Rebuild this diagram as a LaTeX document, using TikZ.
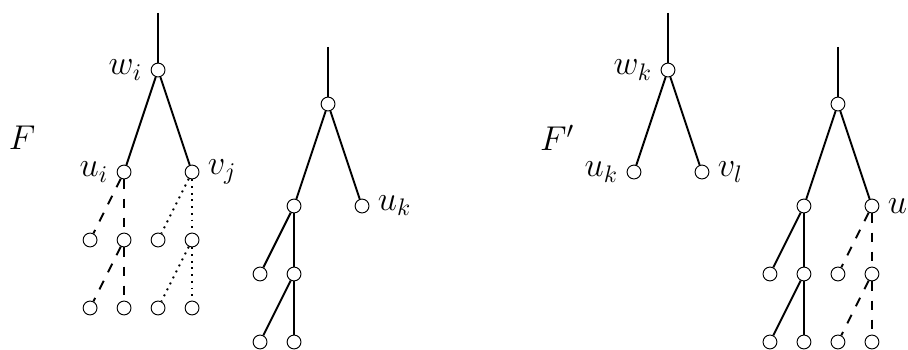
\documentclass[tikz,border=0pt]{standalone}
\usetikzlibrary{positioning}

\begin{document}
\begin{tikzpicture}[
  x=0.5cm, y=0.5cm,
  vtx/.style={draw, circle, fill=white, inner sep=0pt, minimum size=5.8pt},
  edge/.style={thick},
  dashedge/.style={thick, dash pattern=on 4pt off 4pt},
  dotedge/.style={thick, dotted},
  lbl/.style={font=\Large}
]
  \useasboundingbox (-0.65,-0.21) rectangle (26.06,10.06);

  % forest F
  \node[lbl] (F) at (0,6) {$F$};

  \coordinate (top1) at (4,9.68);
  \node[vtx, label={[lbl]left:$w_i$}] (wi) at (4,8) {};
  \node[vtx, label={[lbl]left:$u_i$}] (ui) at (3,5) {};
  \node[vtx, label={[lbl]right:$v_j$}] (vj) at (5,5) {};
  \node[vtx] (a1) at (2,3) {};
  \node[vtx] (a2) at (3,3) {};
  \node[vtx] (a3) at (4,3) {};
  \node[vtx] (a4) at (5,3) {};
  \node[vtx] (b1) at (2,1) {};
  \node[vtx] (b2) at (3,1) {};
  \node[vtx] (b3) at (4,1) {};
  \node[vtx] (b4) at (5,1) {};

  \draw[edge] (top1) -- (wi);
  \draw[edge] (wi) -- (ui);
  \draw[edge] (wi) -- (vj);
  \draw[dashedge] (ui) -- (a1);
  \draw[dashedge] (ui) -- (a2);
  \draw[dashedge] (a2) -- (b1);
  \draw[dashedge] (a2) -- (b2);
  \draw[dotedge] (vj) -- (a3);
  \draw[dotedge] (vj) -- (a4);
  \draw[dotedge] (a4) -- (b3);
  \draw[dotedge] (a4) -- (b4);

  \coordinate (top2) at (9,8.68);
  \node[vtx] (r2) at (9,7) {};
  \node[vtx] (c1) at (8,4) {};
  \node[vtx, label={[lbl]right:$u_k$}] (uk) at (10,4) {};
  \node[vtx] (c2) at (7,2) {};
  \node[vtx] (c3) at (8,2) {};
  \node[vtx] (c4) at (7,0) {};
  \node[vtx] (c5) at (8,0) {};

  \draw[edge] (top2) -- (r2);
  \draw[edge] (r2) -- (c1);
  \draw[edge] (r2) -- (uk);
  \draw[edge] (c1) -- (c2);
  \draw[edge] (c1) -- (c3);
  \draw[edge] (c3) -- (c4);
  \draw[edge] (c3) -- (c5);

  % forest F'
  \node[lbl] (Fp) at (15.74,6) {$F'$};

  \coordinate (top3) at (19,9.68);
  \node[vtx, label={[lbl]left:$w_k$}] (wk) at (19,8) {};
  \node[vtx, label={[lbl]left:$u_k$}] (ukp) at (18,5) {};
  \node[vtx, label={[lbl]right:$v_l$}] (vl) at (20,5) {};

  \draw[edge] (top3) -- (wk);
  \draw[edge] (wk) -- (ukp);
  \draw[edge] (wk) -- (vl);

  \coordinate (top4) at (24,8.68);
  \node[vtx] (r4) at (24,7) {};
  \node[vtx] (d1) at (23,4) {};
  \node[vtx, label={[lbl]right:$u$}] (u) at (25,4) {};
  \node[vtx] (d2) at (22,2) {};
  \node[vtx] (d3) at (23,2) {};
  \node[vtx] (d4) at (24,2) {};
  \node[vtx] (d5) at (25,2) {};
  \node[vtx] (d6) at (22,0) {};
  \node[vtx] (d7) at (23,0) {};
  \node[vtx] (d8) at (24,0) {};
  \node[vtx] (d9) at (25,0) {};

  \draw[edge] (top4) -- (r4);
  \draw[edge] (r4) -- (d1);
  \draw[edge] (r4) -- (u);
  \draw[edge] (d1) -- (d2);
  \draw[edge] (d1) -- (d3);
  \draw[edge] (d3) -- (d6);
  \draw[edge] (d3) -- (d7);
  \draw[dashedge] (u) -- (d4);
  \draw[dashedge] (u) -- (d5);
  \draw[dashedge] (d5) -- (d8);
  \draw[dashedge] (d5) -- (d9);
\end{tikzpicture}
\end{document}
